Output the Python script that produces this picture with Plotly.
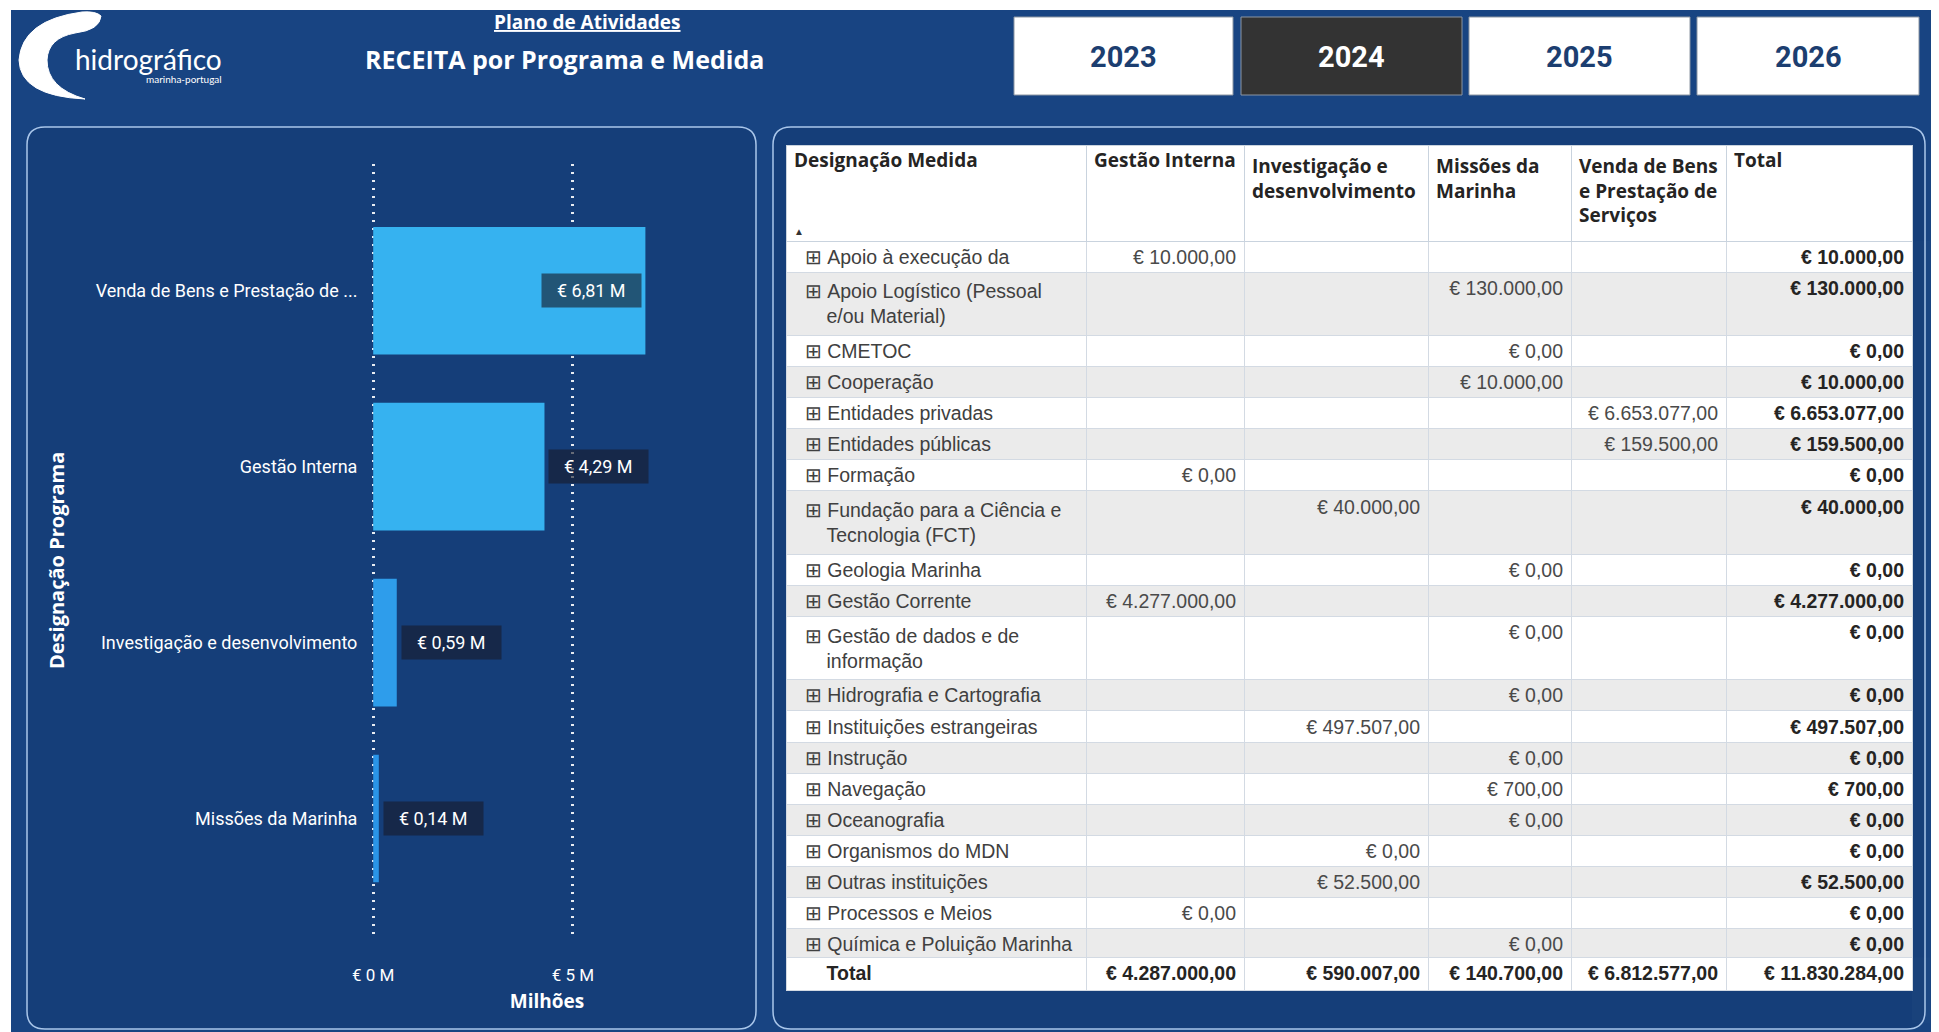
import textwrap
import plotly.graph_objects as go

# ---------------- DATA ----------------
medidas = [
    "Apoio à execução da",
    "Apoio Logístico (Pessoal e/ou Material)",
    "CMETOC",
    "Cooperação",
    "Entidades privadas",
    "Entidades públicas",
    "Formação",
    "Fundação para a Ciência e Tecnologia (FCT)",
    "Geologia Marinha",
    "Gestão Corrente",
    "Gestão de dados e de informação",
    "Hidrografia e Cartografia",
    "Instituições estrangeiras",
    "Instrução",
    "Navegação",
    "Oceanografia",
    "Organismos do MDN",
    "Outras instituições",
    "Processos e Meios",
    "Química e Poluição Marinha",
]
programas = [
    "Gestão Interna",
    "Investigação e desenvolvimento",
    "Missões da Marinha",
    "Venda de Bens e Prestação de Serviços",
]
N = None
gestao_interna = [10000, N, N, N, N, N, 0, N, N, 4277000, N, N, N, N, N, N, N, N, 0, N]
investigacao = [N, N, N, N, N, N, N, 40000, N, N, N, N, 497507, N, N, N, 0, 52500, N, N]
missoes = [N, 130000, 0, 10000, N, N, N, N, 0, N, 0, 0, N, 0, 700, 0, N, N, N, 0]
venda = [N, N, N, N, 6653077, 159500, N, N, N, N, N, N, N, N, N, N, N, N, N, N]
anos = ["2023", "2024", "2025", "2026"]
ano_selecionado = "2024"
x_tick_vals = [0, 5_000_000]
x_tick_text = ["€ 0 M", "€ 5 M"]

colunas = [gestao_interna, investigacao, missoes, venda]

# ---------------- HELPERS ----------------
W, H = 1923, 1024
OX, OY = 8, 8
NB = "\u00a0"


def X(x):
    return (x - OX) / W


def Y(y):
    return 1 - (y - OY) / H


def eur(v):
    s = f"{v:,.2f}".replace(",", "X").replace(".", ",").replace("X", ".")
    return "€" + NB + s


def rounded_rect(x0, y0, x1, y1, r):
    a, b, c, d = X(x0), Y(y1), X(x1), Y(y0)  # left, bottom, right, top
    rx, ry = r / W, r / H
    return (f"M {a+rx},{d} L {c-rx},{d} Q {c},{d} {c},{d-ry} L {c},{b+ry} "
            f"Q {c},{b} {c-rx},{b} L {a+rx},{b} Q {a},{b} {a},{b+ry} "
            f"L {a},{d-ry} Q {a},{d} {a+rx},{d} Z")


def pt(x, y):
    return f"{X(x)},{Y(y)}"


NAVY = "#184482"
PANEL = "#153e79"
BORDER = "#a9c6ea"

totais_prog = [sum(v for v in col if v is not None) for col in colunas]
totais_med = [sum(col[i] for col in colunas if col[i] is not None) for i in range(len(medidas))]
total_geral = sum(totais_prog)

# ---------------- BAR CHART ----------------
ordem = sorted(range(len(programas)), key=lambda i: -totais_prog[i])
bar_vals = [totais_prog[i] for i in ordem]


def trunc(s, n=28):
    return s if len(s) <= n + 2 else s[:n] + " ..."


bar_labels = [trunc(programas[i]) for i in ordem]
bar_colors = ["#36b2f0", "#36b2f0", "#2e9deb", "#2a95e8"]

x_max = 8.73e6

fig = go.Figure()
fig.add_trace(go.Bar(
    x=bar_vals, y=bar_labels, orientation="h",
    marker=dict(color=bar_colors, line=dict(width=0)),
    width=0.725, hoverinfo="skip",
))

annotations = []
for v, lab in zip(bar_vals, bar_labels):
    txt = NB * 2 + "€ " + f"{v/1e6:.2f}".replace(".", ",") + " M" + NB * 2
    inside = v + 2.7e6 > x_max
    annotations.append(dict(
        x=v, y=lab, xref="x", yref="y", text=txt, showarrow=False,
        xanchor="right" if inside else "left", yanchor="middle",
        xshift=-3 if inside else 4,
        font=dict(family="Roboto", size=18, color="white"),
        bgcolor="rgba(22,28,44,0.62)", borderpad=6,
    ))

# ---------------- TABLE ----------------
icon = "⊞"
col0 = []
n_double = 0
for m in medidas:
    parts = textwrap.wrap(m, 26)
    s = NB * 2 + icon + NB + parts[0].replace(" ", NB)
    for p in parts[1:]:
        s += "<br>" + NB * 6 + p.replace(" ", NB)
    n_double += len(parts) > 1
    col0.append(s)

val_cols = [[eur(v) if v is not None else "" for v in col] for col in colunas]
tot_col = [eur(v) for v in totais_med]

header_vals = ["Designação Medida"] + [
    "<br>".join(l.replace(" ", NB) for l in textwrap.wrap(p, 14, break_long_words=False))
    for p in programas
] + ["Total"]
total_row = [NB * 6 + "Total"] + [eur(v) for v in totais_prog] + [eur(total_geral)]

nrows = len(medidas)
row_fill = [("#ffffff" if i % 2 == 0 else "#ebebeb") for i in range(nrows)]
font_cols = ["#404040", "#4a4a4a", "#4a4a4a", "#4a4a4a", "#4a4a4a", "#252423"]
weight_cols = [400, 400, 400, 400, 400, 700]
col_w = [300, 158, 184, 143, 155, 186]
aligns = ["left", "right", "right", "right", "right", "right"]
LINE = "#d3dae3"
BODY_FONT = "Liberation Sans"
BODY_SIZE = 19.5

TAB_TOP, HDR_H, ROW_H, ROW2_H, TOT_H = 145, 96, 31.1, 62.5, 33

fig.add_trace(go.Table(
    domain=dict(x=[X(786), X(1912)], y=[Y(1020), Y(TAB_TOP)]),
    columnwidth=col_w,
    header=dict(
        values=header_vals, fill_color="white", align="left", height=HDR_H,
        font=dict(family="Open Sans", size=19, color="#252423", weight=700),
        line=dict(color="#c9d3de", width=1),
    ),
    cells=dict(
        values=[col0] + val_cols + [tot_col],
        fill_color=[row_fill] * 6,
        align=aligns,
        font=dict(family=BODY_FONT, size=BODY_SIZE, color=font_cols, weight=weight_cols),
        line=dict(color=LINE, width=1),
        height=ROW_H,
    ),
))

tot_top = TAB_TOP + HDR_H + (nrows - n_double) * ROW_H + n_double * ROW2_H
fig.add_trace(go.Table(
    domain=dict(x=[X(786), X(1912)], y=[Y(1024), Y(tot_top)]),
    columnwidth=col_w,
    header=dict(
        values=total_row, fill_color="white", align=aligns, height=TOT_H,
        font=dict(family=BODY_FONT, size=BODY_SIZE, color="#252423", weight=700),
        line=dict(color=LINE, width=1),
    ),
    cells=dict(values=[[] for _ in range(6)], height=1),
))

annotations.append(dict(x=X(799), y=Y(231), xref="paper", yref="paper", text="▲",
                        xanchor="center", yanchor="middle",
                        showarrow=False, font=dict(size=10, color="#333333")))

# ---------------- HEADER / DECOR ----------------
shapes = [
    dict(type="rect", xref="paper", yref="paper", x0=X(11), x1=X(1931), y0=Y(1040), y1=Y(10),
         fillcolor=NAVY, line=dict(width=0), layer="below"),
    dict(type="path", xref="paper", yref="paper", path=rounded_rect(27, 127, 756, 1029, 18),
         fillcolor=PANEL, line=dict(color=BORDER, width=1.5), layer="below"),
    dict(type="path", xref="paper", yref="paper", path=rounded_rect(773, 127, 1925, 1029, 18),
         fillcolor=PANEL, line=dict(color=BORDER, width=1.5), layer="below"),
]

# logo swoosh
swoosh = ("M " + pt(101, 16) + " Q " + pt(96, 11) + " " + pt(82, 12) +
          " Q " + pt(22, 20) + " " + pt(19, 60) +
          " Q " + pt(20, 96) + " " + pt(85, 99) +
          " Q " + pt(47, 88) + " " + pt(47, 60) +
          " Q " + pt(48, 38) + " " + pt(75, 33) +
          " Q " + pt(100, 30) + " " + pt(101, 16) + " Z")
shapes.append(dict(type="path", xref="paper", yref="paper", path=swoosh,
                   fillcolor="white", line=dict(color="white", width=1), layer="below"))

botoes = [(1014, 1233), (1241, 1462), (1469, 1690), (1697, 1919)]
for ano, (bx0, bx1) in zip(anos, botoes):
    sel = ano == ano_selecionado
    shapes.append(dict(type="rect", xref="paper", yref="paper",
                       x0=X(bx0), x1=X(bx1), y0=Y(95), y1=Y(17),
                       fillcolor="#333333" if sel else "white",
                       line=dict(color="#8c96a3", width=1), layer="below"))
    annotations.append(dict(x=X((bx0 + bx1) / 2), y=Y(57), xref="paper", yref="paper",
                            xanchor="center", yanchor="middle",
                            text=f"<b>{ano}</b>", showarrow=False,
                            font=dict(family="Roboto", size=29,
                                      color="white" if sel else "#1c3e70")))

extra = [
    dict(x=X(148), y=Y(59), text="hidrográfico",
         font=dict(family="Lato", size=28, color="white")),
    dict(x=X(184), y=Y(79), text="marinha-portugal",
         font=dict(family="Lato", size=10, color="white")),
    dict(x=X(587), y=Y(22), text="<b><u>Plano de Atividades</u></b>",
         font=dict(family="Open Sans", size=19, color="white")),
    dict(x=X(564), y=Y(59), text="<b>RECEITA por Programa e Medida</b>",
         font=dict(family="Open Sans", size=25, color="white")),
    dict(x=X(56), y=Y(561), text="<b>Designação Programa</b>", textangle=-90,
         font=dict(family="Open Sans", size=20, color="white")),
]
for a in extra:
    a.update(xref="paper", yref="paper", xanchor="center", yanchor="middle", showarrow=False)
annotations += extra

fig.update_layout(
    width=W, height=H,
    margin=dict(l=0, r=0, t=0, b=0, autoexpand=False),
    paper_bgcolor="white", plot_bgcolor="rgba(0,0,0,0)",
    showlegend=False, hovermode=False,
    shapes=shapes, annotations=annotations,
    xaxis=dict(
        domain=[X(372), X(722)], range=[-0.03e6, x_max], automargin=False,
        tickvals=x_tick_vals, ticktext=x_tick_text,
        tickfont=dict(family="Roboto", size=17, color="white"),
        ticks="outside", ticklen=20, tickcolor="rgba(0,0,0,0)",
        showgrid=True, gridcolor="rgba(255,255,255,0.9)", griddash="2px,6px", gridwidth=2.5,
        zeroline=False, showline=False, fixedrange=True,
        title=dict(text="<b>Milhões</b>", standoff=10,
                   font=dict(family="Open Sans", size=19, color="white")),
    ),
    yaxis=dict(
        domain=[Y(940), Y(164)], range=[3.69, -0.72], automargin=False,
        categoryorder="array", categoryarray=bar_labels,
        tickfont=dict(family="Roboto", size=18, color="white"),
        ticks="outside", ticklen=10, tickcolor="rgba(0,0,0,0)",
        showgrid=False, zeroline=False, showline=False, fixedrange=True,
    ),
)

fig.write_html("out.html")
